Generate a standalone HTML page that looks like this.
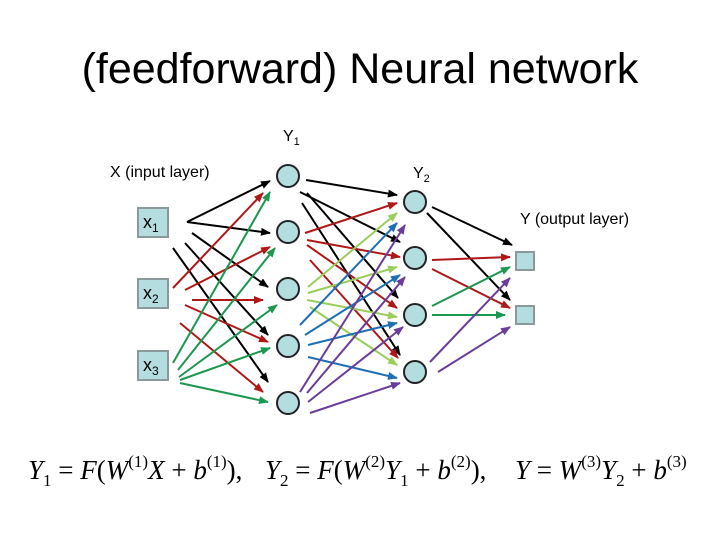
<!DOCTYPE html>
<html><head><style>body{margin:0;background:#fff}svg{display:block}</style></head><body>
<svg width="720" height="540" xmlns="http://www.w3.org/2000/svg" font-family="Liberation Sans, sans-serif">
<defs>
<marker id="a" viewBox="0 0 10 10" refX="9" refY="5" markerWidth="5" markerHeight="5" orient="auto" markerUnits="strokeWidth"><path d="M0,1 L10,5 L0,9 z" fill="context-stroke"/></marker>
</defs>
<text x="360" y="83" font-size="43" text-anchor="middle">(feedforward) Neural network</text>
<text x="283" y="141" font-size="16">Y<tspan font-size="11" dy="4">1</tspan></text>
<text x="413" y="178" font-size="16">Y<tspan font-size="11" dy="4">2</tspan></text>
<text x="110" y="177" font-size="16">X (input layer)</text>
<text x="520" y="224" font-size="16">Y (output layer)</text>
<g fill="#b4dde0" stroke="#8a9a9a" stroke-width="2">
<rect x="138" y="208" width="30" height="29"/><rect x="138" y="279" width="30" height="29"/><rect x="138" y="351" width="30" height="29"/>
<rect x="516" y="252" width="18" height="18"/><rect x="516" y="306" width="18" height="18"/>
</g>
<text x="143" y="228" font-size="18">x<tspan font-size="12" dy="4">1</tspan></text>
<text x="143" y="299" font-size="18">x<tspan font-size="12" dy="4">2</tspan></text>
<text x="143" y="371" font-size="18">x<tspan font-size="12" dy="4">3</tspan></text>
<g fill="#b4dde0" stroke="#222" stroke-width="2">
<circle cx="288" cy="176" r="11"/><circle cx="288" cy="232" r="11"/><circle cx="288" cy="289" r="11"/><circle cx="288" cy="346" r="11"/><circle cx="288" cy="403" r="11"/>
<circle cx="415" cy="202" r="11"/><circle cx="415" cy="258" r="11"/><circle cx="415" cy="315" r="11"/><circle cx="415" cy="372" r="11"/>
</g>
<g stroke-width="2" marker-end="url(#a)" fill="none">
<g stroke="#000"><line x1="187" y1="222" x2="270" y2="181"/><line x1="187" y1="222" x2="270" y2="233"/><line x1="192" y1="233" x2="268" y2="287"/><line x1="185" y1="243" x2="268" y2="335"/><line x1="173" y1="248" x2="268" y2="382"/></g>
<g stroke="#b01818"><line x1="173" y1="288" x2="263" y2="193"/><line x1="185" y1="290" x2="270" y2="247"/><line x1="192" y1="300" x2="263" y2="300"/><line x1="185" y1="305" x2="268" y2="342"/><line x1="180" y1="323" x2="263" y2="392"/></g>
<g stroke="#1a9850"><line x1="173" y1="363" x2="270" y2="192"/><line x1="178" y1="370" x2="275" y2="248"/><line x1="179" y1="377" x2="277" y2="305"/><line x1="180" y1="380" x2="270" y2="348"/><line x1="180" y1="383" x2="268" y2="402"/></g>
<g stroke="#000"><line x1="306" y1="180" x2="397" y2="195"/><line x1="300" y1="192" x2="400" y2="242"/><line x1="307" y1="193" x2="398" y2="298"/><line x1="302" y1="203" x2="400" y2="355"/></g>
<g stroke="#b01818"><line x1="305" y1="233" x2="397" y2="203"/><line x1="307" y1="240" x2="400" y2="257"/><line x1="307" y1="245" x2="397" y2="308"/><line x1="310" y1="260" x2="398" y2="358"/></g>
<g stroke="#9acd5a"><line x1="308" y1="287" x2="397" y2="213"/><line x1="308" y1="293" x2="397" y2="267"/><line x1="307" y1="300" x2="397" y2="317"/><line x1="310" y1="307" x2="397" y2="365"/></g>
<g stroke="#1f6fb5"><line x1="300" y1="325" x2="397" y2="223"/><line x1="305" y1="335" x2="400" y2="275"/><line x1="308" y1="345" x2="397" y2="323"/><line x1="308" y1="357" x2="397" y2="378"/></g>
<g stroke="#6a3d9a"><line x1="300" y1="392" x2="405" y2="225"/><line x1="307" y1="393" x2="405" y2="277"/><line x1="308" y1="402" x2="403" y2="327"/><line x1="310" y1="413" x2="400" y2="383"/></g>
<g stroke="#000"><line x1="432" y1="207" x2="512" y2="245"/><line x1="427" y1="213" x2="510" y2="300"/></g>
<g stroke="#b01818"><line x1="432" y1="260" x2="510" y2="257"/><line x1="432" y1="269" x2="510" y2="308"/></g>
<g stroke="#1a9850"><line x1="432" y1="306" x2="510" y2="267"/><line x1="432" y1="315" x2="505" y2="315"/></g>
<g stroke="#6a3d9a"><line x1="430" y1="362" x2="510" y2="278"/><line x1="438" y1="372" x2="510" y2="327"/></g>
</g>
<g font-family="Liberation Serif, serif" font-style="italic" font-size="27">
<text x="28" y="479">Y<tspan font-size="17" font-style="normal" dy="7">1</tspan><tspan dy="-7" font-style="normal"> = </tspan>F<tspan font-style="normal">(</tspan>W<tspan font-size="17" font-style="normal" dy="-12">(1)</tspan><tspan dy="12">X</tspan><tspan font-style="normal"> + </tspan>b<tspan font-size="17" font-style="normal" dy="-12">(1)</tspan><tspan dy="12" font-style="normal">),</tspan></text>
<text x="265" y="479">Y<tspan font-size="17" font-style="normal" dy="7">2</tspan><tspan dy="-7" font-style="normal"> = </tspan>F<tspan font-style="normal">(</tspan>W<tspan font-size="17" font-style="normal" dy="-12">(2)</tspan><tspan dy="12">Y</tspan><tspan font-size="17" font-style="normal" dy="7">1</tspan><tspan font-style="normal" dy="-7"> + </tspan>b<tspan font-size="17" font-style="normal" dy="-12">(2)</tspan><tspan dy="12" font-style="normal">),</tspan></text>
<text x="515" y="479">Y<tspan font-style="normal"> = </tspan>W<tspan font-size="17" font-style="normal" dy="-12">(3)</tspan><tspan dy="12">Y</tspan><tspan font-size="17" font-style="normal" dy="7">2</tspan><tspan font-style="normal" dy="-7"> + </tspan>b<tspan font-size="17" font-style="normal" dy="-12">(3)</tspan></text>
</g>
</svg>
</body></html>
